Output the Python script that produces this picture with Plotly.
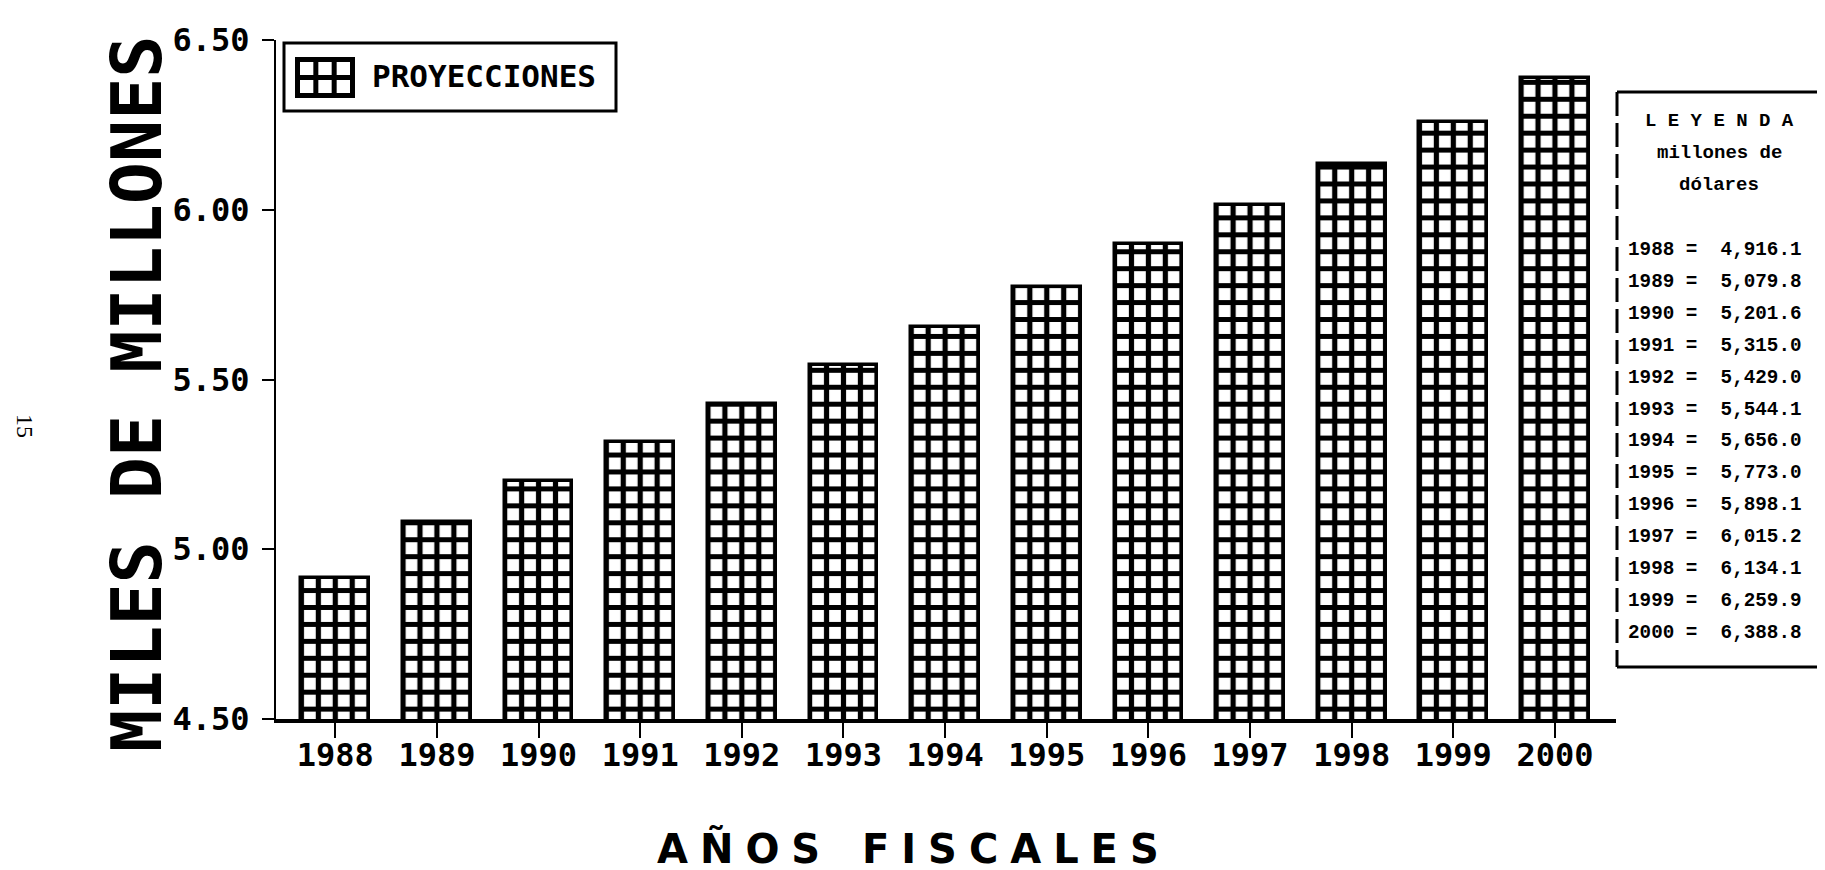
import plotly.graph_objects as go

# ---------------- data ----------------
years = [1988, 1989, 1990, 1991, 1992, 1993, 1994, 1995, 1996, 1997, 1998, 1999, 2000]
values_millions = [4916.1, 5079.8, 5201.6, 5315.0, 5429.0, 5544.1, 5656.0,
                   5773.0, 5898.1, 6015.2, 6134.1, 6259.9, 6388.8]
values_billions = [v / 1000.0 for v in values_millions]
y_tick_values = [4.50, 5.00, 5.50, 6.00, 6.50]
y_tick_labels = ["4.50", "5.00", "5.50", "6.00", "6.50"]
x_tick_labels = [str(y) for y in years]
series_name = "PROYECCIONES"
x_title = "AÑOS FISCALES"
y_title = "MILES DE MILLONES"
legend_title = "L E Y E N D A"
legend_unit_lines = ["millones de", "dólares"]
page_number = "15"

# ---------------- layout geometry ----------------
W, H = 1825, 870
ML, MR, MT, MB = 268, 217, 32, 159
PW, PH = W - ML - MR, H - MT - MB

P = 16.94                 # pattern tile (px)
S = 6 * P                 # px per year
x_span = PW / S
x0 = years[0] - 1.0 / 3 - 1.5 / 6
x1 = x0 + x_span


def px(x):
    return (x - ML) / PW


def py(y):
    return (MT + PH - y) / PH


BLACK = "#000000"

fig = go.Figure()
fig.add_trace(go.Bar(
    x=years,
    y=values_billions,
    width=2.0 / 3,
    name=series_name,
    marker=dict(
        color="white",
        line=dict(color=BLACK, width=3.5),
        pattern=dict(shape="+", size=P, solidity=0.52, fgcolor=BLACK,
                     bgcolor="white", fgopacity=1, fillmode="replace"),
    ),
    showlegend=False,
    hovertemplate="%{x}: %{y:.4f}<extra></extra>",
))

shapes = []
annotations = []

# ----- series legend box (top-left) -----
shapes.append(dict(type="rect", xref="paper", yref="paper",
                   x0=px(276), x1=px(608), y0=py(103), y1=py(35),
                   line=dict(color=BLACK, width=3), fillcolor="white", layer="above"))
shapes.append(dict(type="rect", xref="paper", yref="paper",
                   x0=px(287), x1=px(347), y0=py(90), y1=py(49),
                   line=dict(width=0), fillcolor=BLACK, layer="above"))
lw = 5.0
cw = (60 - 4 * lw) / 3
ch = (41 - 3 * lw) / 2
for c in range(3):
    for r in range(2):
        sx0 = 287 + lw + c * (cw + lw)
        sy0 = 49 + lw + r * (ch + lw)
        shapes.append(dict(type="rect", xref="paper", yref="paper",
                           x0=px(sx0), x1=px(sx0 + cw), y0=py(sy0 + ch), y1=py(sy0),
                           line=dict(width=0), fillcolor="white", layer="above"))
annotations.append(dict(text=series_name, xref="paper", yref="paper",
                        x=px(362), y=py(68), xanchor="left", yanchor="middle",
                        showarrow=False,
                        font=dict(family="DejaVu Sans Mono", size=31, color=BLACK, weight="bold")))

# ----- right value legend -----
bx0, bx1, by0, by1 = 1609, 1812, 84, 659
shapes.append(dict(type="line", xref="paper", yref="paper",
                   x0=px(bx0), x1=px(bx1), y0=py(by0), y1=py(by0),
                   line=dict(color=BLACK, width=3)))
shapes.append(dict(type="line", xref="paper", yref="paper",
                   x0=px(bx0), x1=px(bx1), y0=py(by1), y1=py(by1),
                   line=dict(color=BLACK, width=3)))
for xx in (bx0, bx1):
    shapes.append(dict(type="line", xref="paper", yref="paper",
                       x0=px(xx), x1=px(xx), y0=py(by0), y1=py(by1),
                       line=dict(color=BLACK, width=3, dash="24px,7px")))

mono = "Liberation Mono"
annotations.append(dict(text=legend_title, xref="paper", yref="paper",
                        x=px(1711), y=py(113), xanchor="center", yanchor="middle",
                        showarrow=False,
                        font=dict(family=mono, size=19, color=BLACK, weight="bold")))
for i, line in enumerate(legend_unit_lines):
    annotations.append(dict(text=line, xref="paper", yref="paper",
                            x=px(1711), y=py(145 + i * 32), xanchor="center", yanchor="middle",
                            showarrow=False,
                            font=dict(family=mono, size=19, color=BLACK, weight="bold")))
for i, (yr, v) in enumerate(zip(years, values_millions)):
    annotations.append(dict(text=f"{yr} = {v:>8,.1f}", xref="paper", yref="paper",
                            x=px(1618), y=py(242 + i * 31.9), xanchor="left", yanchor="middle",
                            showarrow=False,
                            font=dict(family=mono, size=19.3, color=BLACK, weight="bold")))

# ----- axis titles -----
annotations.append(dict(text=y_title, xref="paper", yref="paper",
                        x=px(129), y=py(386), xanchor="center", yanchor="middle",
                        textangle=-90, showarrow=False,
                        font=dict(family="DejaVu Sans Mono", size=70, color=BLACK, weight="bold")))
x_title_spaced = "   ".join("\u2009\u200a".join(word) for word in x_title.split(" "))
annotations.append(dict(text=x_title_spaced, xref="paper", yref="paper",
                        x=px(900), y=py(866), xanchor="center", yanchor="bottom",
                        showarrow=False,
                        font=dict(family="DejaVu Sans", size=40, color=BLACK, weight="bold")))
annotations.append(dict(text=page_number, xref="paper", yref="paper",
                        x=px(17), y=py(418), xanchor="center", yanchor="middle",
                        textangle=90, showarrow=False,
                        font=dict(family="Liberation Serif", size=24, color=BLACK)))

fig.update_layout(
    width=W, height=H, autosize=False,
    margin=dict(l=ML, r=MR, t=MT, b=MB, pad=0),
    paper_bgcolor="white", plot_bgcolor="white",
    bargap=0,
    shapes=shapes, annotations=annotations,
    xaxis=dict(range=[x0, x1], tickmode="array", tickvals=years, ticktext=x_tick_labels,
               ticks="outside", ticklen=15, tickwidth=2, tickcolor=BLACK,
               showline=True, linecolor=BLACK, linewidth=4, showgrid=False, zeroline=False,
               ticklabelstandoff=-10,
               tickfont=dict(family="DejaVu Sans Mono", size=32, color=BLACK, weight="bold")),
    yaxis=dict(range=[4.5, 6.5], tickmode="array", tickvals=y_tick_values, ticktext=y_tick_labels,
               ticks="outside", ticklen=12, tickwidth=2, tickcolor=BLACK,
               showline=True, linecolor=BLACK, linewidth=2, showgrid=False, zeroline=False,
               ticklabelstandoff=6,
               tickfont=dict(family="DejaVu Sans Mono", size=32, color=BLACK, weight="bold")),
)

fig.write_html("out.html")
